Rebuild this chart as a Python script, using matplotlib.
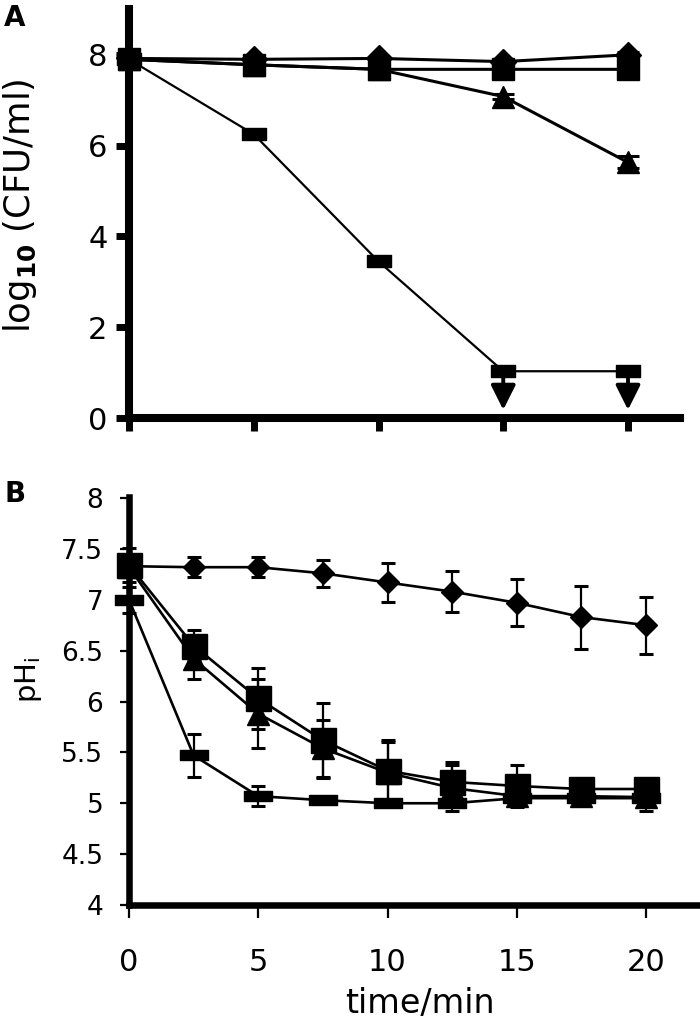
import numpy as np
import matplotlib
matplotlib.use("Agg")
import matplotlib.pyplot as plt
from matplotlib.path import Path

plt.rcParams['font.family'] = ['DejaVu Sans']
plt.rcParams['mathtext.default'] = 'regular'
plt.rcParams['xtick.major.pad'] = 22

# ---------------- Panel A data ----------------
a_time = [0, 5, 10, 15, 20]
a_diamond = [7.92, 7.90, 7.92, 7.85, 8.00]
a_diamond_err = [0.03, 0.03, 0.03, 0.04, 0.06]
a_square = [7.90, 7.78, 7.68, 7.68, 7.68]
a_square_err = [0.03, 0.04, 0.04, 0.05, 0.08]
a_triangle = [7.90, 7.78, 7.68, 7.08, 5.63]
a_triangle_err = [0.03, 0.04, 0.04, 0.06, 0.13]
a_dash = [7.90, 6.25, 3.45, 1.03, 1.03]
a_limit_times = [15, 20]          # points below detection limit
a_limit_tip = 0.18
a_yticks = [0, 2, 4, 6, 8]

# ---------------- Panel B data ----------------
b_time = [0, 2.5, 5, 7.5, 10, 12.5, 15, 17.5, 20]
b_diamond = [7.33, 7.32, 7.32, 7.26, 7.17, 7.08, 6.97, 6.83, 6.75]
b_diamond_err = [0.05, 0.10, 0.10, 0.13, 0.19, 0.20, 0.23, 0.31, 0.28]
b_square = [7.34, 6.55, 6.03, 5.62, 5.32, 5.21, 5.17, 5.14, 5.14]
b_square_err = [0.17, 0.15, 0.30, 0.37, 0.30, 0.20, 0.21, 0.05, 0.10]
b_triangle = [7.32, 6.42, 5.88, 5.54, 5.30, 5.15, 5.07, 5.07, 5.06]
b_triangle_err = [0.10, 0.20, 0.34, 0.28, 0.30, 0.23, 0.05, 0.05, 0.08]
b_dash = [7.00, 5.47, 5.07, 5.03, 5.00, 5.00, 5.05, 5.05, 5.05]
b_dash_err = [0.13, 0.21, 0.10, 0.02, 0.02, 0.02, 0.05, 0.05, 0.13]
b_xticks = [0, 5, 10, 15, 20]
b_yticks = [4, 4.5, 5, 5.5, 6, 6.5, 7, 7.5, 8]
b_yticklabels = ['4', '4.5', '5', '5.5', '6', '6.5', '7', '7.5', '8']


def dash_marker(ratio):
    return Path([(-1, -ratio), (1, -ratio), (1, ratio), (-1, ratio), (-1, -ratio)],
                [Path.MOVETO, Path.LINETO, Path.LINETO, Path.LINETO, Path.CLOSEPOLY])


W, H = 700, 1022
fig = plt.figure(figsize=(W / 100, H / 100), dpi=100)

# ---------------- Panel A ----------------
axA = fig.add_axes([129 / W, 1 - 418 / H, 551 / W, 409 / H])
axA.set_xlim(0, 551 / 24.95)
axA.set_ylim(0, 409 / 45.4)

ekwA = dict(color='k', lw=2.2, elinewidth=2.0, capsize=8, capthick=2.2, clip_on=False)
axA.errorbar(a_time, a_triangle, yerr=a_triangle_err, marker='^', ms=16.5, zorder=3, **ekwA)
axA.errorbar(a_time, a_diamond, yerr=a_diamond_err, marker='D', ms=13, zorder=3, **ekwA)
axA.plot(a_time, a_dash, color='k', lw=1.6, marker=dash_marker(0.46), ms=17.5, zorder=3,
         clip_on=False)
axA.errorbar(a_time, a_square, yerr=a_square_err, marker='s', ms=16, zorder=4, **ekwA)
for t in a_limit_times:
    yv = a_dash[a_time.index(t)]
    axA.annotate('', xy=(t, a_limit_tip), xytext=(t, yv),
                 arrowprops=dict(arrowstyle='-|>,head_length=1.0,head_width=0.5',
                                 mutation_scale=15, lw=2.8, color='k',
                                 shrinkA=0, shrinkB=0), zorder=2)

axA.set_xticks(a_time)
axA.set_xticklabels([])
axA.set_yticks(a_yticks)
axA.set_yticklabels([str(v) for v in a_yticks])
for s in ['top', 'right']:
    axA.spines[s].set_visible(False)
for s in ['left', 'bottom']:
    axA.spines[s].set_linewidth(5.8)
axA.tick_params(axis='both', direction='out', width=5, length=9.4, labelsize=22, pad=6)

# ---------------- Panel B ----------------
axB = fig.add_axes([129 / W, 1 - 905 / H, 571 / W, 408 / H])
axB.set_xlim(0, 571 / 25.85)
axB.set_ylim(4, 8.01)

ekwB = dict(color='k', lw=1.9, elinewidth=1.6, capsize=4.8, capthick=2.2, clip_on=False)
axB.errorbar(b_time, b_dash, yerr=b_dash_err, marker=dash_marker(0.34), ms=19.5, zorder=3, **ekwB)
axB.errorbar(b_time, b_triangle, yerr=b_triangle_err, marker='^', ms=16, zorder=3, **ekwB)
axB.errorbar(b_time, b_square, yerr=b_square_err, marker='s', ms=18, zorder=4, **ekwB)
axB.errorbar(b_time, b_diamond, yerr=b_diamond_err, marker='D', ms=11.7, zorder=4, **ekwB)

axB.set_xticks(b_xticks)
axB.set_xticklabels([str(v) for v in b_xticks])
axB.set_yticks(b_yticks)
axB.set_yticklabels(b_yticklabels)
for s in ['top', 'right']:
    axB.spines[s].set_visible(False)
for s in ['left', 'bottom']:
    axB.spines[s].set_linewidth(4.7)
axB.tick_params(axis='both', direction='out', width=1.6)
axB.tick_params(axis='y', length=6.5, labelsize=19, pad=12)
axB.tick_params(axis='x', length=9, labelsize=22, pad=22)

# ---------------- Labels ----------------
fig.text(20 / W, 1 - 206 / H, r'log$_{\mathbf{10}}$ (CFU/ml)', rotation=90,
         ha='center', va='center', fontsize=25.5)
fig.text(28 / W, 1 - 680 / H, r'pH$_{i}$', rotation=90, ha='center', va='center', fontsize=21)
fig.text(420 / W, 1 - 1003 / H, 'time/min', ha='center', va='center', fontsize=24)
fig.text(15 / W, 1 - 18 / H, 'A', ha='center', va='center', fontsize=20, fontweight='bold')
fig.text(15 / W, 1 - 494 / H, 'B', ha='center', va='center', fontsize=20, fontweight='bold')

fig.savefig('out.png', dpi=100)
